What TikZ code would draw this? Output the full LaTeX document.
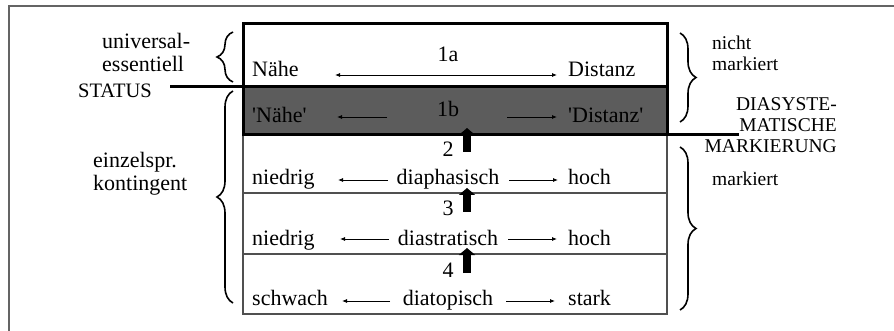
\documentclass[tikz,border=0pt]{standalone}
\usepackage{fontspec}
\setmainfont{Liberation Serif}
\newfontfamily\rawquote{Liberation Serif}[Ligatures=TeXOff]
\usetikzlibrary{arrows.meta,decorations.pathreplacing}
\definecolor{framegray}{RGB}{100,100,100}
\definecolor{darkfill}{RGB}{92,92,92}
\definecolor{rulegray}{RGB}{80,80,80}
\newcommand{\sq}{{\rawquote'}}
\begin{document}
\begin{tikzpicture}[x=1pt,y=-1pt,
  txt/.style={inner sep=0pt,font=\fontsize{22}{23}\selectfont},
  side/.style={inner sep=0pt,font=\fontsize{19.5}{21}\selectfont},
  thin arrow/.style={line width=0.8pt,-{Latex[length=5pt,width=4pt]}},
  both arrow/.style={line width=0.8pt,{Latex[length=5pt,width=4pt]}-{Latex[length=5pt,width=4pt]}},
  up arrow/.style={line width=8pt,-{Triangle[width=16pt,length=7pt]}},
  curly/.style={decorate,decoration={brace,amplitude=16pt},line width=1.6pt},
  heavy/.style={line width=3pt}]
\useasboundingbox (0,0) rectangle (894,331);

% outer frame (top and left edges)
\draw[framegray,line width=2pt] (894,6) -- (9,6) -- (9,331);

% rows 1a and 1b
\fill[darkfill] (243,87) rectangle (667,135);
\draw[rulegray,line width=1.2pt] (243,135) -- (243,314) -- (667,314) -- (667,135);
\draw[rulegray,line width=1.2pt] (243,193) -- (667,193);
\draw[rulegray,line width=1.2pt] (243,254) -- (667,254);
\draw[heavy] (243,24) rectangle (667,135);
\draw[heavy] (243,87) -- (667,87);

% status and marking lines
\node[txt,font=\fontsize{20.5}{22}\selectfont,anchor=base west] (status) at (78,98) {STATUS};
\coordinate (statusL) at (170,87);
\coordinate (statusR) at (243,87);
\draw[heavy] (statusL) -- (statusR);
\node[side,anchor=base east,align=right] (dia) at (837,153) {DIASYSTE-\\MATISCHE\\MARKIERUNG};
\coordinate (diaL) at (667,135);
\coordinate (diaR) at (739,135);
\draw[heavy] (diaL) -- (diaR);

% row 1a
\node[txt,anchor=base] (l1a) at (448,62) {1a};
\node[txt,anchor=base west] (n1a) at (252,77) {Nähe};
\node[txt,anchor=base west] (d1a) at (568,77) {Distanz};
\coordinate (a1aL) at (335,75);
\coordinate (a1aR) at (557,75);
\draw[both arrow] (a1aL) -- (a1aR);

% row 1b
\node[txt,anchor=base] (l1b) at (448,117) {1b};
\node[txt,anchor=base west] (n1b) at (252,123) {\sq Nähe\sq};
\node[txt,anchor=base west] (d1b) at (568,123) {\sq Distanz\sq};
\coordinate (a1bLs) at (387,117); \coordinate (a1bLe) at (337,117);
\coordinate (a1bRs) at (507,117); \coordinate (a1bRe) at (557,117);
\draw[thin arrow] (a1bLs) -- (a1bLe);
\draw[thin arrow] (a1bRs) -- (a1bRe);

% row 2
\node[txt,anchor=base] (l2) at (448,157) {2};
\node[txt,anchor=base west] (n2) at (252,185) {niedrig};
\node[txt,anchor=base] (c2) at (448,185) {diaphasisch};
\node[txt,anchor=base west] (h2) at (568,185) {hoch};
\coordinate (a2Ls) at (388,180); \coordinate (a2Le) at (338,180);
\coordinate (a2Rs) at (509,180); \coordinate (a2Re) at (558,180);
\draw[thin arrow] (a2Ls) -- (a2Le);
\draw[thin arrow] (a2Rs) -- (a2Re);

% row 3
\node[txt,anchor=base] (l3) at (448,216) {3};
\node[txt,anchor=base west] (n3) at (252,245) {niedrig};
\node[txt,anchor=base] (c3) at (448,245) {diastratisch};
\node[txt,anchor=base west] (h3) at (568,245) {hoch};
\coordinate (a3Ls) at (389,239); \coordinate (a3Le) at (340,239);
\coordinate (a3Rs) at (508,239); \coordinate (a3Re) at (557,239);
\draw[thin arrow] (a3Ls) -- (a3Le);
\draw[thin arrow] (a3Rs) -- (a3Re);

% row 4
\node[txt,anchor=base] (l4) at (448,277) {4};
\node[txt,anchor=base west] (n4) at (252,305) {schwach};
\node[txt,anchor=base] (c4) at (448,305) {diatopisch};
\node[txt,anchor=base west] (s4) at (568,305) {stark};
\coordinate (a4Ls) at (390,301); \coordinate (a4Le) at (342,301);
\coordinate (a4Rs) at (506,301); \coordinate (a4Re) at (555,301);
\draw[thin arrow] (a4Ls) -- (a4Le);
\draw[thin arrow] (a4Rs) -- (a4Re);

% upward arrows between the levels
\coordinate (u2s) at (467,152); \coordinate (u2e) at (467,128);
\coordinate (u3s) at (467,212); \coordinate (u3e) at (467,188);
\coordinate (u4s) at (467,273); \coordinate (u4e) at (467,248);
\draw[up arrow] (u2s) -- (u2e);
\draw[up arrow] (u3s) -- (u3e);
\draw[up arrow] (u4s) -- (u4e);

% left labels and braces
\node[txt,anchor=base west,align=left] (univ) at (102,72) {universal-\\essentiell};
\node[txt,anchor=base west,align=left] (einz) at (93,191) {einzelspr.\\kontingent};
\coordinate (bUa) at (233,82); \coordinate (bUb) at (233,32);
\coordinate (bLa) at (233,303); \coordinate (bLb) at (233,91);
\draw[curly] (bUa) -- (bUb);
\draw[curly] (bLa) -- (bLb);

% right labels and braces
\node[side,anchor=base west,align=left] (nicht) at (712,71) {nicht\\markiert};
\node[side,anchor=base west] (mark) at (712,186) {markiert};
\coordinate (rUa) at (680,33); \coordinate (rUb) at (680,122);
\coordinate (rLa) at (680,147); \coordinate (rLb) at (680,310);
\draw[curly] (rUa) -- (rUb);
\draw[curly] (rLa) -- (rLb);
\end{tikzpicture}
\end{document}
